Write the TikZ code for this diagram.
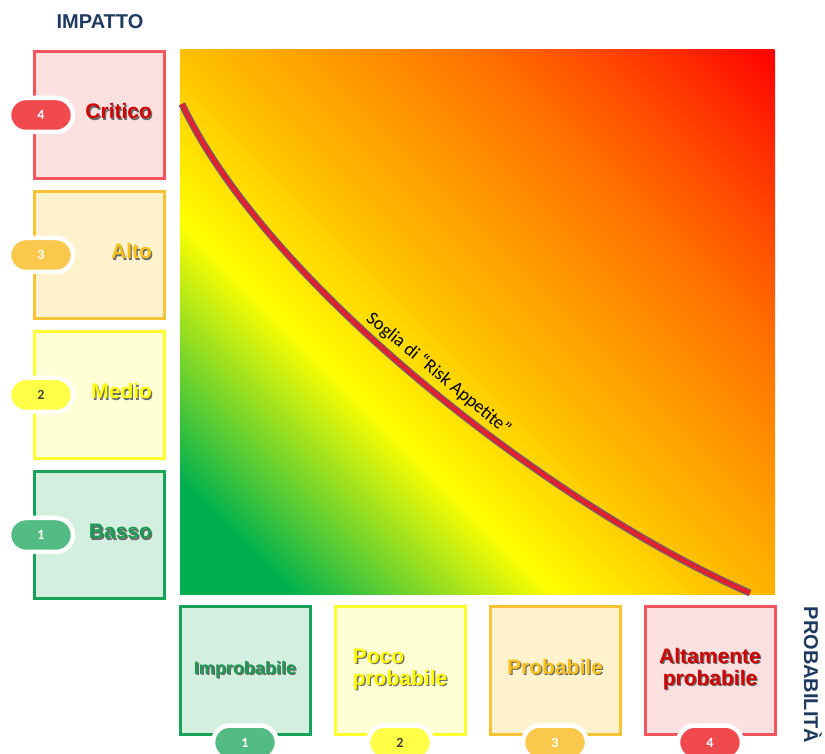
\documentclass[tikz,border=0pt]{standalone}
\usepackage{fontspec}
\setmainfont{Liberation Sans}
\newfontfamily\calibri{Carlito}
\usetikzlibrary{positioning}

\definecolor{navy}{HTML}{1F3A60}
\definecolor{critred}{HTML}{F0565C}
\definecolor{critfill}{HTML}{FDE0E0}
\definecolor{crittext}{HTML}{D00000}
\definecolor{critpill}{HTML}{F04A4F}
\definecolor{highgold}{HTML}{F7C233}
\definecolor{highfill}{HTML}{FFF2CD}
\definecolor{hightext}{HTML}{F8C21C}
\definecolor{highpill}{HTML}{F9C84D}
\definecolor{medyel}{HTML}{FFFF30}
\definecolor{medfill}{HTML}{FFFFD6}
\definecolor{medtext}{HTML}{FFFF00}
\definecolor{medpill}{HTML}{FFFF45}
\definecolor{lowgreen}{HTML}{17A257}
\definecolor{lowfill}{HTML}{D3EFDF}
\definecolor{lowtext}{HTML}{1A9A52}
\definecolor{lowpill}{HTML}{52BC84}
\definecolor{pilldark}{HTML}{404040}
\definecolor{shadowgray}{HTML}{6A6A6A}
\definecolor{fieldgreen}{HTML}{00B050}
\definecolor{fieldamber}{HTML}{FFC000}
\definecolor{fieldorange}{HTML}{FF7000}
\definecolor{fieldscarlet}{HTML}{FF3000}
\definecolor{fieldred}{HTML}{FF0000}
\definecolor{curvered}{HTML}{E3202E}
\definecolor{curveedge}{HTML}{6E5E72}

\pgfdeclarehorizontalshading{riskfield}{100bp}{color(0bp)=(fieldgreen); color(30bp)=(fieldgreen); color(41.5bp)=(yellow); color(49bp)=(fieldamber); color(62bp)=(fieldorange); color(70bp)=(fieldscarlet); color(75bp)=(fieldred); color(100bp)=(fieldred)}

% text with a small drop shadow
\newcommand{\shadowed}[3][c]{%
  \makebox[0pt][l]{\raisebox{-1.3pt}{\hspace{1.3pt}\textcolor{shadowgray}{\begin{tabular}{@{}#1@{}}#3\end{tabular}}}}%
  \textcolor{#2}{\begin{tabular}{@{}#1@{}}#3\end{tabular}}}

\tikzset{
	levelbox/.style={
		rectangle,
		line width=3pt,
		minimum width=130pt,
		minimum height=127pt,
		font=\bfseries\fontsize{21}{22}\selectfont
	},
	levelleft/.style={
		text width=105pt,
		inner xsep=12.5pt,
		align=right
	},
	critbox/.style={levelbox, draw=critred, fill=critfill},
	highbox/.style={levelbox, draw=highgold, fill=highfill},
	medbox/.style={levelbox, draw=medyel, fill=medfill},
	lowbox/.style={levelbox, draw=lowgreen, fill=lowfill},
	pill/.style={
		rectangle,
		rounded corners=17pt,
		minimum width=64pt,
		minimum height=34pt,
		inner sep=0pt,
		draw=white,
		line width=4.5pt,
		text=white,
		font=\calibri\bfseries\fontsize{14}{14}\selectfont
	},
	axislabel/.style={
		text=navy,
		font=\bfseries\fontsize{20}{20}\selectfont
	},
	threshold/.style={
		draw=curvered,
		line width=4.5pt,
		preaction={draw=curveedge, line width=7pt}
	}
}

\begin{document}
\begin{tikzpicture}[x=1pt, y=1pt, node distance=10pt]
	\useasboundingbox (0,0) rectangle (825,753);

	% risk field
	\begin{scope}
		\clip (180,158) rectangle (775,703);
		\begin{scope}[transform canvas={rotate around={45:(477.5,430.5)}}]
			\shade [shading=riskfield] (74.5,27.5) rectangle (880.5,833.5);
		\end{scope}
	\end{scope}

	% threshold curve
	\coordinate (thrstart) at (182,649);
	\coordinate (thrend)   at (750,160);
	\draw [threshold] (thrstart) .. controls (270,463) and (560,243) .. (thrend)
		node (appetite) [pos=0.5, sloped, above=3pt, text=black, font=\calibri\fontsize{18.5}{18.5}\selectfont] {Soglia di “Risk Appetite”};

	% impact levels
	\node (imp4) [critbox, levelleft] at (99.5,638)    {\shadowed[r]{crittext}{Critico}};
	\node (imp3) [highbox, levelleft, below=of imp4]   {\shadowed[r]{hightext}{Alto}};
	\node (imp2) [medbox, levelleft, below=of imp3]    {\shadowed[r]{medtext}{Medio}};
	\node (imp1) [lowbox, levelleft, below=of imp2]    {\shadowed[r]{lowtext}{Basso}};

	% probability levels
	\node (prob1) [lowbox] at (245,82.5)               {\shadowed{lowtext}{\fontsize{18}{19}\selectfont Improbabile}};
	\node (prob2) [medbox, right=22pt of prob1]        {\shadowed[l]{medtext}{Poco\\probabile}};
	\node (prob3) [highbox, right=22pt of prob2]       {\shadowed{hightext}{Probabile}};
	\node (prob4) [critbox, right=22pt of prob3]       {\shadowed{crittext}{Altamente\\probabile}};

	% score badges
	\node (imp4num) [pill, fill=critpill] at ([xshift=8pt]imp4.west) {4};
	\node (imp3num) [pill, fill=highpill] at ([xshift=8pt]imp3.west) {3};
	\node (imp2num) [pill, fill=medpill, text=pilldark] at ([xshift=8pt]imp2.west) {2};
	\node (imp1num) [pill, fill=lowpill]  at ([xshift=8pt]imp1.west) {1};
	\node (prob1num) [pill, fill=lowpill]  at ([yshift=-7pt]prob1.south) {1};
	\node (prob2num) [pill, fill=medpill, text=pilldark] at ([yshift=-7pt]prob2.south) {2};
	\node (prob3num) [pill, fill=highpill] at ([yshift=-7pt]prob3.south) {3};
	\node (prob4num) [pill, fill=critpill] at ([yshift=-7pt]prob4.south) {4};

	% axis titles
	\node (impact)      [axislabel] at (100,731) {IMPATTO};
	\node (probability) [axislabel, rotate=-90] at (813,78) {PROBABILITÀ};

\end{tikzpicture}
\end{document}
